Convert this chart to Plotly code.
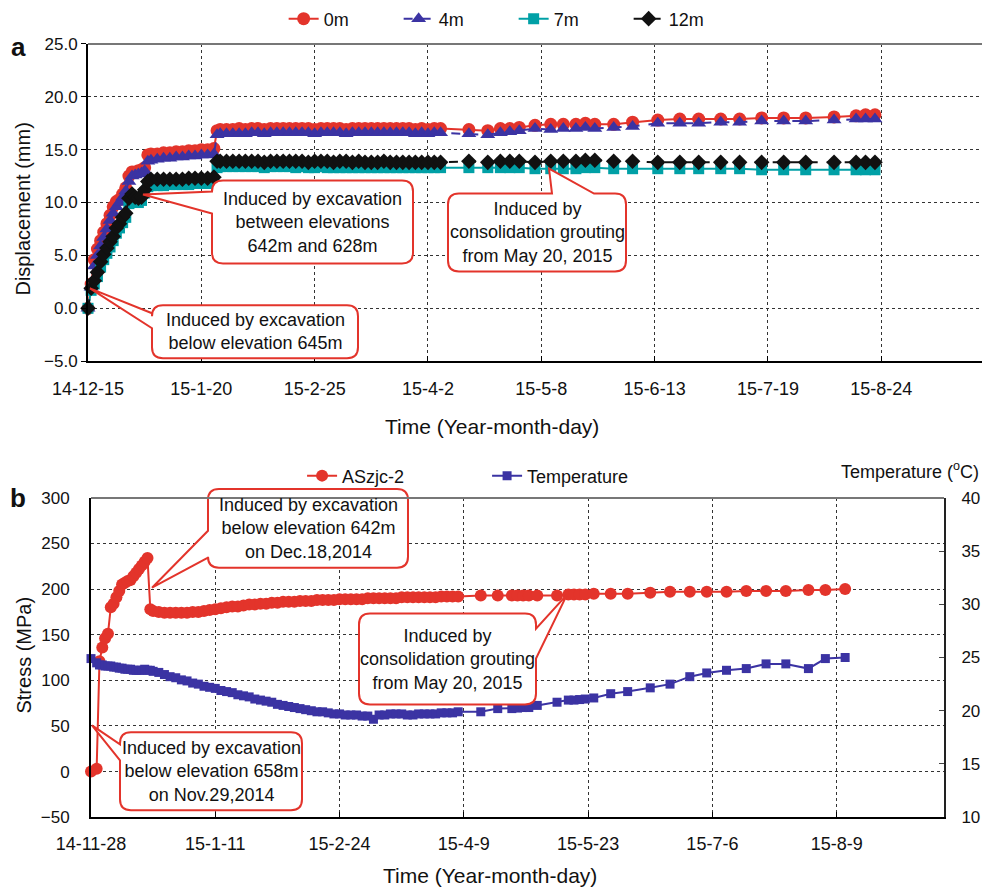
import pandas as pd
import plotly.graph_objects as go

W, H = 984, 887
FONT = "Liberation Sans, Arial, sans-serif"
RED = "#E3342B"
BLUE = "#3B33A3"
TEAL = "#00A0A6"
BLACK = "#111111"

# ---------------- panel a : displacement ----------------
start_a = "2014-12-15"
days_a = [0, 1, 2, 3, 4, 5, 6, 7, 8, 9, 10, 11, 12, 13, 14, 15, 16, 17, 18, 19, 20,
          22, 24, 26, 28, 30, 32, 34, 36, 38, 40,
          41, 42, 44, 46, 48, 50, 52, 54, 56, 58, 60, 62, 64, 66, 68, 70, 72, 74, 76, 78,
          80, 82, 84, 86, 88, 90, 92, 94, 96, 98, 100, 102, 104, 106, 108, 110, 112,
          121, 127, 131, 134, 137, 142, 147, 151, 155, 158, 161, 167, 173, 181, 188,
          194, 201, 207, 214, 221, 228, 237, 244, 247, 250]

disp_0m = [0.0, 2.3, 4.6, 5.6, 6.4, 7.2, 8.0, 8.8, 9.6, 10.1, 10.3, 10.8, 11.4, 12.5, 12.9, 12.9, 13.0, 13.1, 13.3, 14.5, 14.6,
           14.6, 14.7, 14.7, 14.8, 14.8, 14.9, 14.9, 15.0, 15.0, 15.1,
           16.8,
           16.9, 16.9, 16.9, 17.0, 16.9, 17.0,
           17.0, 16.9, 17.0, 17.0, 17.0, 17.0,
           17.0, 17.0, 17.0, 16.9, 17.0, 17.0,
           17.0, 17.0, 16.9, 17.0, 17.0, 17.0,
           17.0, 17.0, 17.0, 17.0, 17.0, 17.0,
           17.0, 16.9, 17.0, 16.9, 17.0, 17.0,
           16.9, 16.8, 17.0, 17.0, 17.1, 17.3, 17.4, 17.4, 17.4, 17.5,
           17.4, 17.4, 17.6, 17.8, 17.9, 17.9, 17.9, 17.9, 18.0, 18.0,
           18.0, 18.1, 18.2, 18.3, 18.3]

disp_4m = [0.0, 2.0, 4.0, 5.0, 5.9, 6.7, 7.5, 8.3, 9.0, 9.6, 10.0, 10.5, 11.1, 12.0, 12.5, 12.6, 12.7, 12.8, 13.0, 13.9, 14.0,
           14.1, 14.2, 14.2, 14.3, 14.3, 14.4, 14.4, 14.5, 14.5, 14.6,
           16.4,
           16.5, 16.5, 16.5, 16.5, 16.5, 16.6,
           16.6, 16.5, 16.6, 16.6, 16.6, 16.6,
           16.6, 16.6, 16.6, 16.5, 16.6, 16.6,
           16.6, 16.6, 16.5, 16.6, 16.6, 16.6,
           16.6, 16.6, 16.6, 16.6, 16.6, 16.6,
           16.6, 16.5, 16.6, 16.5, 16.6, 16.6,
           16.5, 16.4, 16.6, 16.7, 16.8, 17.0, 16.9, 17.0, 17.0, 17.1,
           17.0, 17.1, 17.2, 17.5, 17.5, 17.5, 17.6, 17.6, 17.7, 17.7,
           17.7, 17.8, 17.9, 17.9, 17.9]

disp_7m = [0.0, 1.7, 2.3, 3.0, 3.9, 4.6, 5.2, 5.8, 6.4, 7.1, 7.6, 8.1, 8.6, 9.9, 10.3, 10.1, 10.0, 10.2, 10.9, 11.5, 11.6,
           11.6, 11.6, 11.7, 11.7, 11.7, 11.7, 11.8, 11.8, 11.8, 11.9,
           13.3,
           13.4, 13.4, 13.4, 13.4, 13.4, 13.4,
           13.4, 13.3, 13.4, 13.4, 13.4, 13.4,
           13.3, 13.4, 13.3, 13.3, 13.4, 13.3,
           13.3, 13.3, 13.3, 13.3, 13.3, 13.3,
           13.3, 13.3, 13.3, 13.3, 13.3, 13.3,
           13.3, 13.3, 13.3, 13.3, 13.3, 13.3,
           13.3, 13.3, 13.3, 13.3, 13.3, 13.2, 13.2, 13.2, 13.2, 13.3,
           13.3, 13.2, 13.2, 13.2, 13.2, 13.2, 13.2, 13.2, 13.1, 13.1,
           13.1, 13.1, 13.1, 13.1, 13.1]

disp_12m = [0.0, 1.9, 2.6, 3.4, 4.4, 5.1, 5.7, 6.3, 6.8, 7.6, 8.0, 8.6, 9.0, 10.4, 10.8, 10.5, 10.4, 10.5, 11.2, 12.0, 12.2,
            12.2, 12.2, 12.2, 12.2, 12.2, 12.3, 12.3, 12.3, 12.3, 12.4,
            13.9,
            13.9, 13.9, 13.9, 13.9, 13.9, 13.9,
            13.9, 13.8, 13.9, 13.9, 13.9, 13.9,
            13.9, 13.9, 13.8, 13.9, 13.9, 13.9,
            13.8, 13.9, 13.9, 13.8, 13.9, 13.8,
            13.8, 13.8, 13.9, 13.8, 13.8, 13.8,
            13.8, 13.8, 13.8, 13.8, 13.8, 13.8,
            13.9, 13.8, 13.9, 13.9, 13.9, 13.8, 13.9, 13.9, 13.9, 14.0,
            14.0, 13.9, 13.9, 13.8, 13.8, 13.8, 13.8, 13.8, 13.8, 13.8,
            13.8, 13.8, 13.8, 13.8, 13.8]

tick_dates_a = ["2014-12-15", "2015-01-20", "2015-02-25", "2015-04-02",
                "2015-05-08", "2015-06-13", "2015-07-19", "2015-08-24"]
tick_text_a = ["14-12-15", "15-1-20", "15-2-25", "15-4-2",
               "15-5-8", "15-6-13", "15-7-19", "15-8-24"]
range_a = ["2014-12-15", "2015-09-25"]

# ---------------- panel b : stress and temperature ----------------
start_b = "2014-11-28"
days_b = [0, 2, 3, 4, 5, 6, 7, 8, 9, 10, 11, 12, 13, 14, 15, 16, 17, 18, 19, 20, 21,
          22, 24, 26, 28, 30, 32, 34, 36, 38, 40,
          42, 44, 46, 48, 50, 52, 54, 56, 58, 60,
          62, 64, 66, 68, 70, 72, 74, 76, 78, 80,
          82, 84, 86, 88, 90, 92, 94, 96, 98, 100,
          102, 104, 106, 108, 110, 112, 114, 116, 118, 120,
          122, 124, 126, 128, 130,
          138, 144, 149, 151, 153, 155, 158, 165, 169, 171,
          173, 175, 178, 184, 190, 198, 205, 212, 218, 225,
          232, 239, 246, 254, 260, 267]

stress_aszjc2 = [0, 3, 121, 136, 146, 151, 180, 184, 191, 198, 205, 207, 209, 210, 214, 218, 222, 226, 230, 234, 178,
                 176, 175, 174, 174, 174, 174, 174, 175, 175, 176,
                 177, 178, 179, 180, 181, 181, 182, 183, 183, 184,
                 184, 185, 185, 186, 186, 186, 187, 187, 187, 188,
                 188, 188, 188, 189, 189, 189, 189, 189, 190, 190,
                 190, 190, 190, 190, 191, 191, 191, 191, 191, 191,
                 191, 192, 192, 192, 192,
                 193, 193, 193, 193, 193, 193, 193, 193, 194, 194,
                 194, 194, 195, 195, 195, 196, 197, 197, 197, 197,
                 198, 198, 198, 199, 199, 200]

temperature = [24.9, 24.5, 24.3, 24.3, 24.2, 24.2, 24.2, 24.1, 24.1, 24.0, 24.0, 23.9, 23.9, 23.9, 23.8, 23.8, 23.8, 23.8, 23.9, 23.8, 23.8,
               23.7, 23.6, 23.4, 23.2, 23.1, 22.9, 22.8, 22.6, 22.5, 22.3,
               22.2, 22.1, 21.9, 21.8, 21.7, 21.5, 21.4, 21.3, 21.1, 21.0,
               20.9, 20.8, 20.6, 20.5, 20.4, 20.3, 20.2, 20.1, 20.0, 19.9,
               19.9, 19.8, 19.7, 19.7, 19.6, 19.6, 19.6, 19.5, 19.5, 19.2,
               19.6, 19.6, 19.7, 19.7, 19.7, 19.6, 19.6, 19.7, 19.7, 19.7,
               19.7, 19.8, 19.8, 19.8, 19.9,
               19.9, 20.2, 20.2, 20.25, 20.3, 20.3, 20.5, 20.8, 21.0, 21.0,
               21.05, 21.1, 21.2, 21.6, 21.8, 22.15, 22.5, 23.2, 23.55, 23.8,
               23.96, 24.4, 24.4, 23.96, 24.9, 25.0]

tick_dates_b = ["2014-11-28", "2015-01-11", "2015-02-24", "2015-04-09",
                "2015-05-23", "2015-07-06", "2015-08-19"]
tick_text_b = ["14-11-28", "15-1-11", "15-2-24", "15-4-9", "15-5-23", "15-7-6", "15-8-9"]
range_b = ["2014-11-28", "2015-09-26"]


def to_dates(start, days):
    return (pd.Timestamp(start) + pd.to_timedelta(days, unit="D")).strftime("%Y-%m-%d").tolist()


x_a = to_dates(start_a, days_a)
x_b = to_dates(start_b, days_b)

fig = go.Figure()

series_a = [
    ("0m", disp_0m, RED, "solid", "circle", 13),
    ("4m", disp_4m, BLUE, "dash", "triangle-up", 13),
    ("7m", disp_7m, TEAL, "solid", "square", 11),
    ("12m", disp_12m, BLACK, "dash", "diamond", 12),
]
for name, vals, col, dash, sym, sz in series_a:
    fig.add_trace(go.Scatter(
        x=x_a, y=vals, name=name, mode="lines+markers",
        line=dict(color=col, width=2, dash=dash),
        marker=dict(symbol=sym, size=sz, color=col),
        xaxis="x", yaxis="y", legend="legend", cliponaxis=False))

fig.add_trace(go.Scatter(
    x=x_b, y=temperature, name="Temperature", mode="lines+markers",
    line=dict(color=BLUE, width=2), marker=dict(symbol="square", size=9, color=BLUE),
    xaxis="x2", yaxis="y3", legend="legend2", legendrank=2, cliponaxis=False))
fig.add_trace(go.Scatter(
    x=x_b, y=stress_aszjc2, name="ASzjc-2", mode="lines+markers",
    line=dict(color=RED, width=2), marker=dict(symbol="circle", size=12, color=RED),
    xaxis="x2", yaxis="y2", legend="legend2", legendrank=1, cliponaxis=False))


def px_x(x):
    return x / W


def px_y(y):
    return 1 - y / H


grid = dict(showgrid=True, gridcolor="#333333", griddash="dot", gridwidth=1, zeroline=False)
tickfont = dict(family=FONT, size=18, color="#111")

fig.update_layout(
    width=W, height=H, template="none",
    margin=dict(l=0, r=0, t=0, b=0),
    paper_bgcolor="white", plot_bgcolor="white",
    font=dict(family=FONT, color="#111"),
    showlegend=True,
    xaxis=dict(domain=[px_x(88), px_x(982)], anchor="y", type="date", range=range_a,
               tickmode="array", tickvals=tick_dates_a, ticktext=tick_text_a,
               ticks="inside", ticklen=5, tickcolor="black", ticklabelstandoff=10,
               showline=True, linecolor="black", linewidth=2, tickfont=tickfont, **grid),
    yaxis=dict(domain=[px_y(360), px_y(42)], anchor="x", range=[-5, 25], dtick=5, tickformat=".1f",
               ticks="outside", ticklen=5, tickcolor="black",
               showline=True, linecolor="black", linewidth=2,
               tickfont=dict(family=FONT, size=17, color="#111"), **grid),
    xaxis2=dict(domain=[px_x(91), px_x(944)], anchor="y2", type="date", range=range_b,
                tickmode="array", tickvals=tick_dates_b, ticktext=tick_text_b,
                ticks="inside", ticklen=5, tickcolor="black", ticklabelstandoff=9,
                showline=True, linecolor="black", linewidth=2, tickfont=tickfont, **grid),
    yaxis2=dict(domain=[px_y(817), px_y(497)], anchor="x2", range=[-50, 300], dtick=50,
                ticks="", ticklabelstandoff=16,
                showline=True, linecolor="black", linewidth=2,
                tickfont=dict(family=FONT, size=17, color="#111"), **grid),
    yaxis3=dict(overlaying="y2", anchor="x2", side="right", range=[10, 40], dtick=5,
                ticks="inside", ticklen=5, tickcolor="#444", ticklabelstandoff=12,
                showline=True, linecolor="#222", linewidth=2, showgrid=False, zeroline=False,
                tickfont=dict(family=FONT, size=17, color="#111")),
    legend=dict(orientation="h", x=0.522, xanchor="center", y=px_y(17), yanchor="middle",
                font=dict(family=FONT, size=18, color="#111"), entrywidth=70, entrywidthmode="pixels",
                bgcolor="rgba(0,0,0,0)"),
    legend2=dict(orientation="h", x=0.495, xanchor="center", y=px_y(475), yanchor="middle",
                 font=dict(family=FONT, size=18, color="#111"), entrywidth=140, entrywidthmode="pixels",
                 bgcolor="rgba(0,0,0,0)", traceorder="normal"),
)


def P(x, y):
    return f"{x / W:.5f},{1 - y / H:.5f}"


def bubble(x0, y0, x1, y1, side, b0, b1, tip, r=11):
    tx, ty = tip
    d = "M" + P(x0 + r, y0)
    if side == "top":
        d += " L" + P(b0, y0) + " L" + P(tx, ty) + " L" + P(b1, y0)
    d += " L" + P(x1 - r, y0) + " Q" + P(x1, y0) + " " + P(x1, y0 + r)
    if side == "right":
        d += " L" + P(x1, b0) + " L" + P(tx, ty) + " L" + P(x1, b1)
    d += " L" + P(x1, y1 - r) + " Q" + P(x1, y1) + " " + P(x1 - r, y1)
    d += " L" + P(x0 + r, y1) + " Q" + P(x0, y1) + " " + P(x0, y1 - r)
    if side == "left":
        d += " L" + P(x0, b1) + " L" + P(tx, ty) + " L" + P(x0, b0)
    d += " L" + P(x0, y0 + r) + " Q" + P(x0, y0) + " " + P(x0 + r, y0) + " Z"
    return dict(type="path", xref="paper", yref="paper", path=d, layer="above",
                line=dict(color=RED, width=2), fillcolor="white")


callouts = [
    ((212, 179, 413, 262, "left", 190, 212, (143, 193)),
     "Induced by excavation<br>between elevations<br>642m and 628m"),
    ((152, 304, 358, 357, "left", 312, 327, (90, 287)),
     "Induced by excavation<br>below elevation 645m"),
    ((448, 192, 626, 270, "top", 552, 594, (549, 167)),
     "Induced by<br>consolidation grouting<br>from May 20, 2015"),
    ((208, 488, 408, 567, "left", 530, 557, (152, 587)),
     "Induced by excavation<br>below elevation 642m<br>on Dec.18,2014"),
    ((120, 732, 302, 810, "left", 744, 760, (92, 725)),
     "Induced by excavation<br>below elevation 658m<br>on Nov.29,2014"),
    ((359, 613, 536, 704, "right", 628, 658, (567, 594)),
     "Induced by<br>consolidation grouting<br>from May 20, 2015"),
]

shapes = []
annotations = []
for (x0, y0, x1, y1, side, b0, b1, tip), text in callouts:
    shapes.append(bubble(x0, y0, x1, y1, side, b0, b1, tip))
    annotations.append(dict(xref="paper", yref="paper", x=px_x((x0 + x1) / 2), y=px_y((y0 + y1) / 2),
                            text=text, showarrow=False, xanchor="center", yanchor="middle",
                            font=dict(family=FONT, size=18, color="#111")))

# top borders
shapes.append(dict(type="line", xref="paper", yref="paper", x0=px_x(88), x1=px_x(982),
                   y0=px_y(42), y1=px_y(42), line=dict(color="#777", width=2)))
shapes.append(dict(type="line", xref="paper", yref="paper", x0=px_x(91), x1=px_x(944),
                   y0=px_y(497), y1=px_y(497), line=dict(color="#777", width=2)))

texts = [
    ("<b>a</b>", 18, 45, 0, 26, "center"),
    ("<b>b</b>", 18, 497, 0, 26, "center"),
    ("Displacement (mm)", 23, 208, -90, 20, "center"),
    ("Time (Year-month-day)", 492, 425, 0, 21, "center"),
    ("Stress (MPa)", 24, 655, -90, 20, "center"),
    ("Time (Year-month-day)", 490, 875, 0, 21, "center"),
    ("Temperature (<sup>o</sup>C)", 981, 470, 0, 18, "right"),
]
for t, x, y, ang, sz, xa in texts:
    annotations.append(dict(xref="paper", yref="paper", x=px_x(x), y=px_y(y), text=t,
                            showarrow=False, textangle=ang, xanchor=xa, yanchor="middle",
                            font=dict(family=FONT, size=sz, color="#111")))

fig.update_layout(shapes=shapes, annotations=annotations)

fig.write_html("out.html")
